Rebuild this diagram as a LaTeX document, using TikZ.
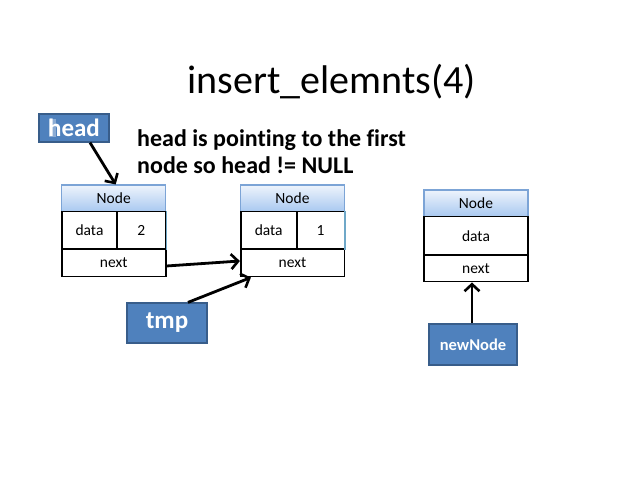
\documentclass[tikz,border=0pt]{standalone}
\usepackage{fontspec}
\setmainfont{Carlito}[Ligatures=NoCommon]
\usetikzlibrary{arrows.meta,calc}
\definecolor{boxblue}{HTML}{4F81BD}
\definecolor{boxedge}{HTML}{385D8A}
\definecolor{hdtop}{HTML}{EEF4FC}
\definecolor{hdbot}{HTML}{A8C8F0}
\definecolor{hdedge}{HTML}{7CA4D6}
\definecolor{rowedge}{HTML}{6FA8C8}
\tikzset{
  hdr/.style={draw=hdedge,line width=1.2pt,top color=hdtop,bottom color=hdbot,minimum width=104pt,minimum height=26.7pt,inner sep=0pt,font=\fontsize{15.5}{17}\selectfont},
  cell/.style={draw=black,line width=1.6pt,fill=white,inner sep=0pt,font=\fontsize{15.5}{17}\selectfont},
  ptr/.style={draw=boxedge,line width=1.2pt,fill=boxblue,text=white,inner sep=0pt,font=\bfseries},
  arr/.style={line width=2.8pt,-{Straight Barb[length=7pt,width=15pt,line width=2.6pt]}}
}
\begin{document}
\begin{tikzpicture}[x=1pt,y=-1pt]
\useasboundingbox (0,0) rectangle (641,481);
\fill[white] (0,0) rectangle (641,481);
\node (title) at (331.5,82) {\fontsize{40}{44}\selectfont insert\_elemnts(4)};
% node 1
\node[hdr] (n1h) at (113.7,198.4) {Node};
\node[cell,minimum width=55.6pt,minimum height=37.6pt] (n1d) at (89.5,230.5) {data};
\node[cell,minimum width=48.6pt,minimum height=37.6pt] (n1v) at (141.4,230.5) {2};
\node[cell,minimum width=104pt,minimum height=27.4pt] (n1n) at (113.7,263) {next};
% node 2
\node[hdr] (n2h) at (292.5,198.4) {Node};
\node[cell,minimum width=56pt,minimum height=37.6pt] (n2d) at (268.7,230.5) {data};
\node[cell,minimum width=47.6pt,minimum height=37.6pt] (n2v) at (320.5,230.5) {1};
\node[cell,minimum width=103.6pt,minimum height=27.4pt] (n2n) at (292.5,263) {next};
% node 3
\node[hdr] (n3h) at (476,203.3) {Node};
\node[cell,minimum width=104pt,minimum height=38.3pt] (n3d) at (476,235.8) {data};
\node[cell,minimum width=104pt,minimum height=26.7pt] (n3n) at (476,268.3) {next};
% light right edges of data rows
\draw[rowedge,line width=1.4pt] (n1v.north east) -- (n1v.south east);
\draw[rowedge,line width=1.4pt] (n2v.north east) -- (n2v.south east);
% pointers
\node[ptr,minimum width=70pt,minimum height=28pt,font=\bfseries\fontsize{25}{28}\selectfont] (head) at (74,128) {head};
\fill[white,opacity=0.35] (49,119) rectangle (56,137);
\node[ptr,minimum width=80pt,minimum height=40pt,font=\bfseries\fontsize{25}{28}\selectfont] (tmp) at (167,323) {tmp};
\node[ptr,minimum width=88pt,minimum height=41pt,font=\bfseries\fontsize{16.5}{19}\selectfont] (nn) at (473,344.5) {newNode};
\node[anchor=west,align=left,inner sep=0pt,font=\bfseries\fontsize{24}{27}\selectfont] (msg) at (137,151.5) {head is pointing to the first\\node so head != NULL};
% arrows
\draw[arr] ([xshift=16pt]head.south) -- ([xshift=2pt]n1h.north);
\draw[arr] ([yshift=-3pt]n1n.east) -- ([yshift=2pt]n2n.west);
\draw[arr] ([xshift=21pt]tmp.north) -- ([xshift=11pt]n2n.south west);
\draw[arr] ([xshift=-1pt]nn.north) -- ([xshift=-1pt]nn.north |- n3n.south);
\end{tikzpicture}
\end{document}
